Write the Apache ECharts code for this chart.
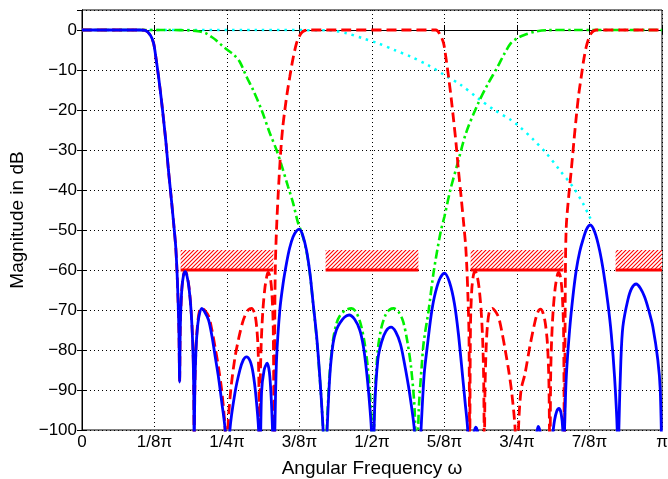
<!DOCTYPE html>
<html>
<head>
<meta charset="utf-8">
<title>Filter magnitude responses</title>
<script src="https://cdn.jsdelivr.net/npm/echarts@6/dist/echarts.min.js"></script>
<style>
  html, body { margin: 0; padding: 0; background: #fff; }
  #chart { width: 668px; height: 479px; }
</style>
</head>
<body>
<div id="chart"></div>
<script>
// Frequency is given in units of pi (0 .. 1), magnitude in dB.
const xTickLabels = ['0', '1/8\u03C0', '1/4\u03C0', '3/8\u03C0', '1/2\u03C0', '5/8\u03C0', '3/4\u03C0', '7/8\u03C0', '\u03C0'];

// overall response (solid blue)
const overallResponse = [
  [0,0],[0.05,0],[0.1,0],[0.109,-0.1],[0.1177,-1.25],[0.1234,-3.3],[0.128,-7.5],[0.132,-11.7],[0.1365,-17],
  [0.1407,-22.5],[0.145,-28.5],[0.149,-35],[0.1535,-41.5],[0.158,-48.3],[0.1615,-54],[0.1637,-60],[0.1655,-67],
  [0.1672,-76],[0.1683,-88],[0.1695,-74],[0.172,-65],[0.175,-61.3],[0.178,-60.4],[0.181,-61.5],[0.1845,-64.5],
  [0.188,-70],[0.1908,-78],[0.1925,-88],[0.1935,-105],[0.1945,-90],[0.1965,-80],[0.199,-74.5],[0.2025,-71],
  [0.2067,-69.6],[0.211,-70.3],[0.2182,-72.5],[0.224,-76.5],[0.2297,-81.7],[0.2355,-87],[0.2412,-93.3],[0.2468,-100],
  [0.251,-115],[0.255,-100],[0.2636,-90.8],[0.2722,-85],[0.278,-82.5],[0.2837,-81.7],[0.29,-82.8],[0.295,-85.8],
  [0.3,-91.7],[0.3045,-100],[0.3065,-115],[0.3095,-90.8],[0.314,-85],[0.3192,-83.3],[0.3239,-86.7],[0.3285,-100],
  [0.3305,-115],[0.3325,-100],[0.3354,-82.5],[0.3411,-70],[0.3468,-63.3],[0.3526,-58.3],[0.358,-54.5],[0.364,-51.7],
  [0.3695,-50.3],[0.3744,-49.8],[0.3805,-51.3],[0.387,-55],[0.393,-60.8],[0.3985,-68.3],[0.4045,-76.5],[0.41,-86.7],
  [0.4157,-100],[0.419,-115],[0.4226,-100],[0.4275,-86],[0.4329,-78.3],[0.4385,-75],[0.4444,-73.3],[0.4525,-71.8],
  [0.4605,-71.25],[0.47,-72.3],[0.4789,-75],[0.485,-79],[0.4904,-85],[0.495,-92],[0.499,-100],[0.5015,-115],
  [0.5045,-95],[0.51,-82.5],[0.5165,-78],[0.524,-75.3],[0.5328,-74.3],[0.541,-75.5],[0.549,-78.5],[0.5559,-83.3],
  [0.5645,-90.5],[0.5731,-100],[0.579,-115],[0.5845,-100],[0.59,-86],[0.596,-78.3],[0.6018,-71.5],[0.6076,-66.7],
  [0.616,-62.5],[0.6248,-60.8],[0.6335,-63],[0.642,-68.3],[0.649,-76],[0.6563,-86.7],[0.6605,-93],[0.665,-100],
  [0.668,-115],[0.6755,-101],[0.679,-99.3],[0.6825,-101],[0.69,-112],[0.74,-112],[0.783,-101],[0.7867,-99.1],
  [0.7905,-101],[0.80,-112],[0.8115,-101],[0.8148,-97.5],[0.8185,-95.3],[0.8222,-94.6],[0.826,-95.8],[0.829,-100],
  [0.831,-110],[0.832,-100],[0.835,-86.7],[0.8407,-75],[0.8465,-66.5],[0.8522,-60],[0.858,-55.5],[0.8636,-52.5],
  [0.87,-49.8],[0.8763,-48.75],[0.884,-50.5],[0.8923,-55],[0.8995,-60.8],[0.9067,-68.3],[0.9125,-76],[0.9182,-86.7],
  [0.9228,-100],[0.9242,-115],[0.9256,-100],[0.929,-83],[0.9325,-74.2],[0.9411,-67.5],[0.948,-64.5],[0.9555,-63.5],
  [0.9625,-64.5],[0.9699,-66.7],[0.977,-70],[0.9842,-74.2],[0.9928,-82.5],[0.997,-90],[1,-110]
];

// periodic model filter (red dashed)
const modelFilter = [
  [0,0],[0.1,0],[0.109,-0.1],[0.1177,-1.25],[0.1234,-3.3],[0.128,-7.5],[0.132,-11.7],[0.1365,-17],[0.1407,-22.5],
  [0.145,-28.5],[0.149,-35],[0.1535,-41.5],[0.158,-48.3],[0.1615,-54],[0.1637,-60],[0.1655,-67],[0.1672,-76],
  [0.1683,-88],[0.1695,-74],[0.172,-65],[0.175,-61.2],[0.178,-60.3],[0.181,-61.3],[0.1845,-64.3],[0.188,-69.8],
  [0.1908,-77.5],[0.1925,-87],[0.1935,-105],[0.1945,-90],[0.1965,-79.5],[0.199,-74],[0.2025,-70.3],[0.2067,-69.5],
  [0.211,-70],[0.2182,-71.5],[0.224,-75],[0.2297,-79.5],[0.2355,-84.5],[0.2412,-90.5],[0.2468,-100],[0.25,-120],
  [0.2515,-100],[0.2565,-90],[0.2636,-82],[0.2703,-77],[0.2765,-73.3],[0.2808,-71.5],[0.2865,-70],[0.2923,-69.6],
  [0.2975,-70.8],[0.301,-74],[0.3035,-79.5],[0.3052,-90],[0.3062,-110],[0.3075,-87],[0.3092,-77.5],[0.312,-69.8],
  [0.3155,-64.3],[0.319,-61.3],[0.3209,-60.6],[0.3245,-61.8],[0.3275,-66],[0.3298,-75],[0.3312,-105],[0.3325,-70],
  [0.3335,-58],[0.3359,-48],[0.3394,-38],[0.3428,-30],[0.346,-24.5],[0.3497,-20],[0.354,-15.5],[0.3583,-11.7],
  [0.364,-7],[0.3699,-3.3],[0.375,-1.5],[0.379,-0.6],[0.385,-0.1],[0.39,0],
  [0.61,0],[0.6177,-1.25],[0.6234,-3.3],[0.628,-7.5],[0.632,-11.7],[0.6365,-17],[0.6407,-22.5],[0.645,-28.5],
  [0.649,-35],[0.6535,-41.5],[0.658,-48.3],[0.6615,-54],[0.6637,-60],[0.6655,-67],[0.6672,-76],[0.6685,-105],
  [0.6698,-74],[0.672,-65],[0.675,-61.2],[0.678,-60.3],[0.681,-61.3],[0.6845,-64.3],[0.688,-69.8],[0.6908,-77.5],
  [0.6925,-87],[0.6938,-105],[0.6948,-90],[0.6968,-79.5],[0.699,-74],[0.7025,-70.3],[0.7075,-69.6],[0.712,-70.2],
  [0.7182,-71.8],[0.724,-75.5],[0.7297,-80],[0.7355,-85],[0.7412,-91],[0.7468,-100],[0.75,-120],
  [0.7525,-100],[0.757,-90],[0.7637,-86],[0.7723,-79],[0.7809,-73],[0.786,-70.5],[0.7905,-69.8],[0.795,-70.8],
  [0.799,-73.5],[0.8025,-78.5],[0.805,-88],[0.8068,-110],[0.808,-87],[0.8097,-77.5],[0.8125,-69.8],[0.816,-64.3],
  [0.8195,-61.3],[0.8215,-60.6],[0.825,-61.8],[0.828,-66],[0.8303,-75],[0.8317,-105],[0.8335,-60],[0.835,-49],
  [0.8395,-41],[0.8436,-35],[0.848,-28],[0.8522,-21.7],[0.8565,-16],[0.8608,-11.7],[0.865,-7.5],[0.8694,-4.2],
  [0.874,-2],[0.878,-0.8],[0.8825,-0.2],[0.8866,0],[1,0]
];

// masking filter (green dash-dot)
const maskingFilter = [
  [0,0],[0.15,0],[0.185,-0.1],[0.2,-0.3],[0.2135,-0.8],[0.222,-1.6],[0.2307,-2.5],[0.2423,-4],[0.2526,-5.2],
  [0.262,-6.2],[0.2722,-8],[0.2837,-11.7],[0.295,-15],[0.3096,-20],[0.3239,-25.8],[0.3354,-30],[0.344,-33.8],
  [0.3554,-39.2],[0.364,-43.3],[0.3726,-48.3],[0.3785,-50.5],[0.387,-55.3],[0.393,-61],[0.3985,-68.5],[0.4045,-77],
  [0.41,-87],[0.4157,-100],[0.4185,-115],[0.4226,-98],[0.4275,-85],[0.4329,-77.5],[0.4385,-73.5],[0.4444,-71.5],
  [0.4545,-70],[0.4646,-69.6],[0.4725,-70.5],[0.4805,-73.5],[0.487,-78],[0.4925,-84],[0.497,-92],[0.5,-100],
  [0.502,-115],[0.5045,-93],[0.51,-80],[0.516,-74.5],[0.5235,-71.2],[0.5305,-69.9],[0.5375,-69.6],[0.546,-70.5],
  [0.5535,-72.8],[0.5605,-77.5],[0.5675,-84.5],[0.5735,-95],[0.577,-115],[0.5806,-95],[0.5857,-84],[0.5892,-78],
  [0.5977,-70],[0.6063,-60.5],[0.6183,-50.5],[0.6248,-46.7],[0.635,-40],[0.6477,-33.3],[0.662,-25.8],[0.6822,-18.6],
  [0.6994,-13.6],[0.7166,-9.2],[0.728,-6],[0.7395,-3.3],[0.751,-2],[0.7625,-1.25],[0.7812,-0.4],[0.80,-0.05],
  [0.85,0],[1,0]
];

// second masking filter (cyan dotted)
const secondMask = [
  [0,0],[0.3,0],[0.4272,-0.1],[0.456,-0.8],[0.4846,-2.1],[0.51,-3.3],[0.5387,-5],[0.5673,-6.7],[0.596,-8.75],
  [0.6248,-11.25],[0.6534,-13.75],[0.6822,-17],[0.711,-20],[0.7395,-22.5],[0.7545,-24.2],[0.7775,-27.3],
  [0.8005,-30.8],[0.8234,-35],[0.8463,-39.2],[0.8636,-43.3],[0.8751,-46.7],[0.8808,-48.3]
];

// stopband specification: band edges (units of pi), bound and hatch top (dB)
const stopbandStart = [0.17, 0.42, 0.67, 0.92];
const stopbandEnd = [0.33, 0.58, 0.83, 1.0];
const stopbandLevel = -60;
const hatchTop = -55;

// small repeating tile with red diagonal hatching
function hatchCanvas() {
  const c = document.createElement('canvas');
  c.width = 4; c.height = 4;
  const g = c.getContext('2d');
  g.fillStyle = '#ffffff';
  g.fillRect(0, 0, 4, 4);
  g.strokeStyle = '#ff0000';
  g.lineWidth = 1.1;
  g.beginPath();
  g.moveTo(0, 4); g.lineTo(4, 0);
  g.moveTo(-1, 1); g.lineTo(1, -1);
  g.moveTo(3, 5); g.lineTo(5, 3);
  g.stroke();
  return c;
}
const hatch = hatchCanvas();

const FONT = "'Liberation Sans', Arial, Helvetica, sans-serif";
const chart = echarts.init(document.getElementById('chart'), null, { renderer: 'canvas' });

const gridDots = { show: true, lineStyle: { color: '#000', width: 1, type: [1, 3] } };
const inTicks = { show: true, inside: true, length: 5, lineStyle: { color: '#000', width: 1 } };

const option = {
  backgroundColor: '#fff',
  animation: false,
  grid: {
    left: 82, right: 6, top: 10, bottom: 49, show: true, borderColor: '#000', borderWidth: 1,
    backgroundColor: 'transparent', containLabel: false, outerBoundsMode: 'none'
  },
  xAxis: [
    {
      type: 'value', min: 0, max: 1, interval: 0.125, position: 'bottom',
      axisLine: { show: true, lineStyle: { color: '#000', width: 1 } },
      axisTick: inTicks,
      splitLine: gridDots,
      axisLabel: {
        color: '#000', fontSize: 17, fontFamily: FONT, margin: 4,
        formatter: v => xTickLabels[Math.round(v / 0.125)] || ''
      },
      name: 'Angular Frequency \u03C9', nameLocation: 'middle', nameGap: 29,
      nameTextStyle: { color: '#000', fontSize: 19, fontFamily: FONT }
    },
    {
      type: 'value', min: 0, max: 1, interval: 0.125, position: 'top',
      axisLine: { show: true, lineStyle: { color: '#000', width: 1 } },
      axisTick: inTicks, axisLabel: { show: false }, splitLine: { show: false }
    }
  ],
  yAxis: [
    {
      type: 'value', min: -100, max: 5, interval: 10, position: 'left',
      axisLine: { show: true, lineStyle: { color: '#000', width: 1 } },
      axisTick: inTicks,
      splitLine: gridDots,
      axisLabel: {
        color: '#000', fontSize: 17, fontFamily: FONT, margin: 5, showMaxLabel: false,
        formatter: v => (v > 0 ? '' : String(v).replace('-', '\u2212'))
      },
      name: 'Magnitude in dB', nameLocation: 'middle', nameGap: 55,
      nameTextStyle: { color: '#000', fontSize: 19, fontFamily: FONT }
    },
    {
      type: 'value', min: -100, max: 5, interval: 10, position: 'right',
      axisLine: { show: true, lineStyle: { color: '#000', width: 1 } },
      axisTick: inTicks, axisLabel: { show: false }, splitLine: { show: false }
    }
  ],
  series: [
    {
      type: 'custom', name: 'stopband spec', z: 1,
      data: stopbandStart.map((s, i) => [s, stopbandEnd[i], stopbandLevel, hatchTop]),
      encode: { x: [0, 1], y: [2, 3] },
      renderItem: (params, api) => {
        const tl = api.coord([api.value(0), api.value(3)]);
        const br = api.coord([api.value(1), api.value(2)]);
        return {
          type: 'group',
          children: [
            { type: 'rect', shape: { x: tl[0], y: tl[1], width: br[0] - tl[0], height: br[1] - tl[1] },
              style: { fill: { image: hatch, repeat: 'repeat' }, stroke: null } },
            { type: 'line', shape: { x1: tl[0], y1: br[1], x2: br[0], y2: br[1] },
              style: { stroke: '#ff0000', lineWidth: 3 } }
          ]
        };
      }
    },
    {
      type: 'line', name: 'second mask', data: secondMask, z: 2, showSymbol: false, smooth: 0.3, clip: true,
      lineStyle: { color: '#00ffff', width: 2.5, type: [2.5, 5] }
    },
    {
      type: 'line', name: 'masking filter', data: maskingFilter, z: 3, showSymbol: false, smooth: 0.3, clip: true,
      lineStyle: { color: '#00f000', width: 2.6, type: [9, 3.5, 2.5, 3.5] }
    },
    {
      type: 'line', name: 'model filter', data: modelFilter, z: 4, showSymbol: false, smooth: 0.3, clip: true,
      lineStyle: { color: '#ff0000', width: 2.8, type: [10, 5] }
    },
    {
      type: 'line', name: 'overall', data: overallResponse, z: 5, showSymbol: false, smooth: 0.3, clip: true,
      lineStyle: { color: '#0000ff', width: 2.8 }
    }
  ]
};
chart.setOption(option);
</script>
</body>
</html>
